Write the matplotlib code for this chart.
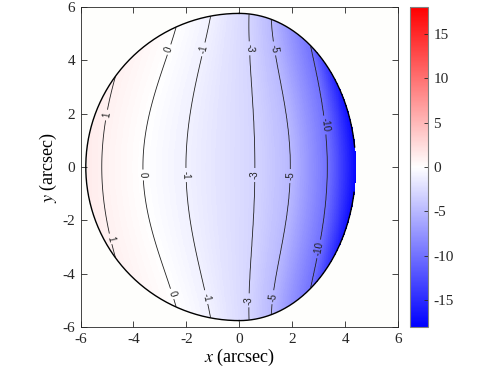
import numpy as np
import matplotlib
matplotlib.use('Agg')
import matplotlib.pyplot as plt

plt.rcParams['font.family'] = ['Liberation Serif', 'DejaVu Serif']
plt.rcParams['mathtext.fontset'] = 'stix'
plt.rcParams['axes.unicode_minus'] = False

# velocity values: contour levels plus edge anchors
level_v = [1.5, 1, 0, -1, -3, -5, -10, -18]
# |y| rows where the contour positions were read
row_y = [0, 1, 2, 3, 4, 5, 6]
# x position of each level along those rows
x_edge_left = [-6.0, -6.0, -6.0, -6.0, -6.0, -6.0, -6.0]
x_v1 = [-5.18, -5.14, -5.03, -4.80, -4.50, -4.15, -3.85]
x_v0 = [-3.63, -3.58, -3.42, -3.10, -2.78, -2.47, -2.20]
x_vm1 = [-2.00, -1.97, -1.88, -1.67, -1.44, -1.22, -1.02]
x_vm3 = [0.59, 0.58, 0.54, 0.47, 0.40, 0.38, 0.38]
x_vm5 = [1.95, 1.90, 1.76, 1.56, 1.42, 1.28, 1.20]
x_vm10 = [3.33, 3.30, 3.18, 3.02, 2.82, 2.60, 2.40]
x_edge_right = [4.45, 4.40, 4.25, 4.00, 3.70, 3.40, 3.20]
level_x = [x_edge_left, x_v1, x_v0, x_vm1, x_vm3, x_vm5, x_vm10, x_edge_right]

contour_levels = [-10, -5, -3, -1, 0, 1]
cbar_ticks = [-15, -10, -5, 0, 5, 10, 15]

# outline of the observed region (semi-axes, arcsec)
a_left, a_right, b_half = 5.8, 4.4, 5.76

xg = np.linspace(-6, 6, 481)
yg = np.linspace(-6, 6, 481)
X, Y = np.meshgrid(xg, yg)

# smooth each read contour along y (fit in y^2) so the lines don't kink
ry2 = np.array(row_y, dtype=float) ** 2
fits = [np.polyfit(ry2, xs, 2) for xs in level_x]

V = np.empty_like(X)
for j, yy in enumerate(np.abs(yg)):
    xp = np.array([np.polyval(c, yy ** 2) for c in fits])
    xp = np.maximum.accumulate(xp)
    V[j] = np.interp(xg, xp, level_v)

inside = np.where(X < 0, (X / a_left) ** 2, (X / a_right) ** 2) + (Y / b_half) ** 2 <= 1
Vm = np.ma.masked_where(~inside, V)

fig = plt.figure(figsize=(4.91, 3.68), dpi=100)
ax = fig.add_axes([80.5 / 491, 41 / 368, 317.5 / 491, 320 / 368])
ax.set_facecolor('#fefefc')

cmap = plt.get_cmap('bwr').copy()
cmap.set_bad((1, 1, 1, 0))
im = ax.imshow(Vm, extent=(-6, 6, -6, 6), origin='lower', cmap=cmap,
               vmin=-18, vmax=18, interpolation='nearest', aspect='auto')

cs = ax.contour(xg, yg, Vm, levels=contour_levels, colors='#222222',
                linewidths=0.6, linestyles='solid')
label_pos = [(-5.03, 1.95), (-4.84, -2.69),
             (-2.64, 4.4), (-3.66, -0.3), (-2.54, -4.76),
             (-1.32, 4.4), (-2.0, -0.3), (-1.26, -4.88),
             (0.38, 4.45), (0.57, -0.3), (0.38, -5.0),
             (1.36, 4.45), (1.92, -0.34), (1.32, -4.89),
             (3.21, 1.57), (2.99, -3.07)]
ax.clabel(cs, fmt='%d', fontsize=7, inline=True, inline_spacing=3,
          manual=label_pos)
for t in cs.labelTexts:
    t.set_family('Liberation Sans')

# outline; right rim left open near the equator as in the map
t_left = np.linspace(np.pi / 2, 3 * np.pi / 2, 300)
ax.plot(a_left * np.cos(t_left), b_half * np.sin(t_left), color='k', lw=1.0)
t_up = np.linspace(np.arcsin(0.75 / b_half), np.pi / 2, 200)
ax.plot(a_right * np.cos(t_up), b_half * np.sin(t_up), color='k', lw=1.0)
t_dn = np.linspace(-np.pi / 2, -np.arcsin(0.95 / b_half), 200)
ax.plot(a_right * np.cos(t_dn), b_half * np.sin(t_dn), color='k', lw=1.0)

ax.set_xlim(-6, 6)
ax.set_ylim(-6, 6)
ax.set_xticks(range(-6, 7, 2))
ax.set_yticks(range(-6, 7, 2))
ax.tick_params(direction='in', top=True, right=True, length=4, width=0.6,
               labelsize=11, colors='#262626', pad=4)
for s in ax.spines.values():
    s.set_color('#262626')
    s.set_linewidth(0.6)
ax.set_xlabel('$x$ (arcsec)', fontsize=13, labelpad=1)
ax.set_ylabel('$y$ (arcsec)', fontsize=13, labelpad=2)

cax = fig.add_axes([410 / 491, 41 / 368, 18 / 491, 320 / 368])
cb = fig.colorbar(im, cax=cax, ticks=cbar_ticks)
cb.outline.set_edgecolor('#808080')
cb.outline.set_linewidth(0.8)
cax.tick_params(direction='in', length=3, width=0.6, labelsize=11,
                colors='#262626', pad=4)

fig.savefig('out.png', dpi=100)
